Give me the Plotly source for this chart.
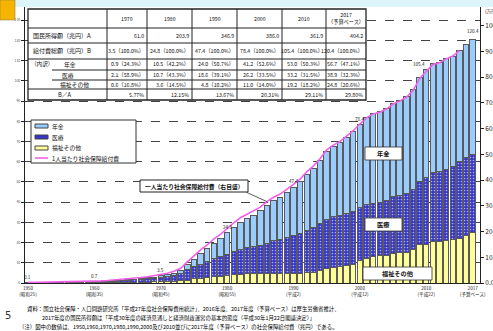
import plotly.graph_objects as go

# ---------------- data ----------------
years = list(range(1950, 2018))
# 兆円 (estimated from the picture / published series)
welfare = [0.06, 0.07, 0.09, 0.10, 0.12, 0.16, 0.17, 0.17, 0.19, 0.21,
           0.22, 0.25, 0.27, 0.30, 0.33, 0.35, 0.38, 0.42, 0.46, 0.53,
           0.59, 0.71, 0.89, 1.11, 1.46, 2.21, 2.45, 2.76, 3.12, 3.41,
           3.6, 4.1, 4.4, 4.5, 4.6, 4.5, 4.6, 4.7, 4.7, 4.7,
           4.8, 4.9, 5.2, 5.4, 6.0, 7.4, 7.8, 8.1, 8.5, 9.1,
           11.0, 12.2, 13.1, 13.4, 13.8, 14.5, 15.0, 15.2, 16.7, 19.2,
           19.2, 20.7, 20.5, 20.9, 21.5, 22.2, 23.7, 24.8]
medical = [0.06, 0.08, 0.12, 0.14, 0.16, 0.20, 0.21, 0.22, 0.27, 0.30,
           0.35, 0.44, 0.53, 0.66, 0.82, 1.00, 1.20, 1.37, 1.58, 1.80,
           2.06, 2.30, 2.84, 3.58, 5.03, 5.71, 6.80, 7.66, 8.94, 9.71,
           10.7, 11.6, 12.3, 13.0, 13.6, 14.3, 15.1, 16.1, 16.8, 17.6,
           18.6, 19.6, 21.0, 22.1, 23.3, 24.1, 24.9, 25.1, 25.7, 26.4,
           26.2, 26.7, 26.3, 26.6, 27.1, 28.1, 28.1, 28.9, 29.6, 30.8,
           33.2, 34.0, 34.6, 35.4, 36.3, 37.7, 38.3, 38.9]
pension = [0.01, 0.01, 0.01, 0.02, 0.02, 0.03, 0.03, 0.04, 0.05, 0.06,
           0.08, 0.10, 0.13, 0.16, 0.20, 0.25, 0.30, 0.36, 0.45, 0.55,
           0.86, 1.01, 1.20, 1.52, 2.54, 3.88, 5.33, 6.45, 7.72, 8.83,
           10.5, 11.9, 13.4, 14.5, 15.4, 16.9, 18.8, 19.9, 20.9, 22.5,
           24.0, 25.6, 27.6, 29.3, 31.2, 33.5, 34.8, 36.2, 37.9, 39.5,
           41.2, 42.8, 44.4, 44.8, 45.5, 46.3, 47.3, 48.3, 49.5, 51.7,
           53.0, 53.8, 54.0, 54.6, 54.3, 54.9, 56.0, 56.7]
pc_years = list(range(1950, 2016))
per_capita = [0.15, 0.19, 0.25, 0.30, 0.34, 0.43, 0.45, 0.47, 0.55, 0.61,
              0.69, 0.83, 0.97, 1.16, 1.38, 1.63, 1.90, 2.15, 2.46, 2.81,
              3.36, 3.79, 4.59, 5.70, 8.20, 10.54, 12.89, 14.77, 17.17, 18.89,
              21.18, 23.41, 25.36, 26.78, 27.95, 29.50, 31.63, 33.31, 34.58, 36.39,
              38.35, 40.40, 43.21, 45.51, 48.28, 51.75, 53.61, 54.99, 57.00, 59.19,
              61.78, 64.18, 65.73, 66.41, 67.61, 69.56, 70.68, 72.19, 74.79, 79.45,
              82.28, 84.90, 85.57, 87.12, 88.20, 90.32]

series_names = ["年金", "医療", "福祉その他", "1人当たり社会保障給付費"]
callout_text = "一人当たり社会保障給付費（右目盛）"

label_years = [1950, 1960, 1970, 1980, 1990, 2000, 2010, 2017]
label_texts = ["0.1", "0.7", "3.5", "24.8", "47.4", "78.4", "105.4", "120.4"]

tick_years = [1950, 1960, 1970, 1980, 1990, 2000, 2010, 2017]
tick_texts = ["1950<br>(昭和25)", "1960<br>(昭和35)", "1970<br>(昭和45)", "1980<br>(昭和55)",
              "1990<br>(平成2)", "2000<br>(平成12)", "2010<br>(平成22)", "2017<br>(予算ベース)"]

table_years = ["1970", "1980", "1990", "2000", "2010", "2017<br>（予算ベース）"]
national_income = ["61.0", "203.9", "346.9", "386.0", "361.9", "404.2"]
benefit_total = ["3.5", "24.8", "47.4", "78.4", "105.4", "120.4"]
benefit_pct = ["100.0%", "100.0%", "100.0%", "100.0%", "100.0%", "100.0%"]
pension_tab = ["0.9", "10.5", "24.0", "41.2", "53.0", "56.7"]
pension_pct = ["24.3%", "42.2%", "50.7%", "52.6%", "50.3%", "47.1%"]
medical_tab = ["2.1", "10.7", "18.6", "26.2", "33.2", "38.9"]
medical_pct = ["58.9%", "43.3%", "39.1%", "33.5%", "31.5%", "32.3%"]
welfare_tab = ["0.6", "3.6", "4.8", "11.0", "19.2", "24.8"]
welfare_pct = ["16.8%", "14.5%", "10.2%", "14.0%", "18.2%", "20.6%"]
ratio_ba = ["5.77%", "12.15%", "13.67%", "20.31%", "29.11%", "29.80%"]
row_labels = ["国民所得額（兆円）A", "給付費総額（兆円）B", "（内訳）", "年金", "医療", "福祉その他", "B／A"]

notes = [
    "資料：国立社会保障・人口問題研究所「平成27年度社会保障費用統計」、2016年度、2017年度（予算ベース）は厚生労働省推計、",
    "2017年度の国民所得額は「平成30年度の経済見通しと経済財政運営の基本的態度（平成30年1月22日閣議決定）」",
    "（注）図中の数値は、1950,1960,1970,1980,1990,2000及び2010並びに2017年度（予算ベース）の社会保障給付費（兆円）である。",
]

# ---------------- style ----------------
FONT = "Noto Sans CJK JP"
W, H = 493, 331
ML, MR, MT, MB = 25, 13, 0, 48
PW, PH = W - ML - MR, H - MT - MB
C_PEN, C_MED, C_WEL, C_PC = "#99CCFF", "#3535C8", "#FFFF99", "#F060E8"
EDGE = "#5a5a5a"

def PX(x):
    return (x - ML) / PW

def PY(y):
    return (H - MB - y) / PH

fig = go.Figure()
common = dict(x=years, width=0.82, showlegend=False)
fig.add_bar(y=welfare, name=series_names[2], marker=dict(color=C_WEL, line=dict(color=EDGE, width=1)), **common)
fig.add_bar(y=medical, name=series_names[1],
            marker=dict(color=C_MED, line=dict(color=EDGE, width=1),
                        pattern=dict(shape=".", bgcolor=C_MED, fgcolor="#A8A8FF", size=3, solidity=0.25)),
            **common)
fig.add_bar(y=pension, name=series_names[0], marker=dict(color=C_PEN, line=dict(color=EDGE, width=1)), **common)
fig.add_scatter(x=pc_years, y=per_capita, yaxis="y2", mode="lines", name=series_names[3],
                line=dict(color=C_PC, width=1.6), showlegend=False)

shapes = []
annots = []

def rect(x0, y0, x1, y1, fill="white", lc="#222", lw=1.0):
    shapes.append(dict(type="rect", xref="paper", yref="paper", x0=PX(x0), x1=PX(x1), y0=PY(y0), y1=PY(y1),
                       fillcolor=fill, line=dict(color=lc, width=lw), layer="above"))

def hline(x0, x1, y, lc="#222", lw=1.0):
    shapes.append(dict(type="line", xref="paper", yref="paper", x0=PX(x0), x1=PX(x1), y0=PY(y), y1=PY(y),
                       line=dict(color=lc, width=lw), layer="above"))

def vline(x, y0, y1, lc="#222", lw=1.0):
    shapes.append(dict(type="line", xref="paper", yref="paper", x0=PX(x), x1=PX(x), y0=PY(y0), y1=PY(y1),
                       line=dict(color=lc, width=lw), layer="above"))

def txt(x, y, s, size=5.6, anchor="left", color="#111", bold=False):
    annots.append(dict(xref="paper", yref="paper", x=PX(x), y=PY(y), text=("<b>%s</b>" % s) if bold else s,
                       showarrow=False, xanchor=anchor, yanchor="middle",
                       font=dict(family=FONT, size=size, color=color)))

# header decoration
shapes.append(dict(type="rect", xref="paper", yref="paper", x0=PX(0), x1=PX(W), y0=PY(0), y1=PY(7),
                   fillcolor="#DDF5FA", line=dict(width=0), layer="above"))
rect(0, 0, 15, 20, fill="#F5B400", lc="#9a8050", lw=0.6)

# ---- table ----
xe = [28, 107, 147, 192, 237, 282, 326, 366]
ye = [9, 28, 43, 59, 70, 80, 89, 100]
rect(xe[0], ye[0], xe[-1], ye[-1], lw=1.3)
for x in xe[1:-1]:
    vline(x, ye[0], ye[-1])
for i, y in enumerate(ye[1:-1], start=1):
    hline(52 if i in (4, 5) else xe[0], xe[-1], y)

for j, yr in enumerate(table_years):
    txt((xe[j + 1] + xe[j + 2]) / 2, (ye[0] + ye[1]) / 2, yr, size=5.2, anchor="center")

rows = [(national_income, None), (benefit_total, benefit_pct), (pension_tab, pension_pct),
        (medical_tab, medical_pct), (welfare_tab, welfare_pct), (ratio_ba, None)]
for r, (vals, pcts) in enumerate(rows):
    yc = (ye[r + 1] + ye[r + 2]) / 2
    for j in range(6):
        s = vals[j] if pcts is None else "%s（%s）" % (vals[j], pcts[j])
        txt(xe[j + 2] - 1.5, yc, s, size=5.3, anchor="right")

txt(31, (ye[1] + ye[2]) / 2, row_labels[0], size=6)
txt(31, (ye[2] + ye[3]) / 2, row_labels[1], size=6)
txt(29, (ye[3] + ye[4]) / 2, row_labels[2], size=5.6)
txt(62, (ye[3] + ye[4]) / 2, row_labels[3], size=5.8)
txt(60, (ye[4] + ye[5]) / 2, row_labels[4], size=5.8)
txt(58, (ye[5] + ye[6]) / 2, row_labels[5], size=5.8)
txt(65, (ye[6] + ye[7]) / 2, row_labels[6], anchor="center", size=5.8)

# ---- legend ----
rect(31, 120, 136, 163, lc="#333")
leg_y = [126, 137, 148, 158]
for k, c in enumerate([C_PEN, C_MED, C_WEL]):
    rect(35, leg_y[k] - 2, 48, leg_y[k] + 2, fill=c, lc="#444")
    txt(50, leg_y[k], series_names[k], size=5.8)
hline(35, 48, leg_y[3], lc=C_PC, lw=1.6)
txt(50, leg_y[3], series_names[3], size=5.8)

# ---- series labels on the chart ----
for nm, (x0, y0, x1, y1) in zip(series_names[:3], [(365, 147, 402, 160), (365, 218, 402, 231), (363, 267, 432, 280)]):
    rect(x0, y0, x1, y1, lc="#333", lw=0.8)
    txt((x0 + x1) / 2, (y0 + y1) / 2, nm, size=6.2, anchor="center", bold=True)

# per-capita callout: box + leader line to the curve
rect(140, 180, 248, 192, lc="#222", lw=1)
txt(194, 186, callout_text, size=5.8, anchor="center", bold=True)
pc_pt = pc_years.index(1986)
annots.append(dict(xref="x", yref="y2", x=1986, y=per_capita[pc_pt], ax=-22, ay=-10, text="",
                   showarrow=True, arrowhead=0, arrowwidth=0.8, arrowcolor="#333"))

# value labels
for yr, t in zip(label_years, label_texts):
    i = years.index(yr)
    tot = welfare[i] + medical[i] + pension[i]
    annots.append(dict(xref="x", yref="y", x=yr, y=tot, text=t, showarrow=False, yanchor="bottom",
                       xshift=-7 if yr == 2010 else 0, yshift=1 if yr < 2017 else 4,
                       font=dict(family=FONT, size=4.6, color="#222")))

# right axis unit
annots.append(dict(xref="paper", yref="paper", x=PX(483), y=PY(11), text="(万円)", showarrow=False,
                   xanchor="left", yanchor="middle", font=dict(family=FONT, size=4.6, color="#222")))

# notes
for (x, y), s in zip([(25, 309), (40, 318), (17, 327)], notes):
    txt(x, y, s, size=5.4, color="#000")
annots.append(dict(xref="paper", yref="paper", x=PX(3), y=PY(323), text="5", showarrow=False, xanchor="left",
                   font=dict(family="DejaVu Sans", size=10, color="#333")))

fig.update_layout(
    width=W, height=H, margin=dict(l=ML, r=MR, t=MT, b=MB, autoexpand=False),
    template="none", paper_bgcolor="white", plot_bgcolor="white",
    barmode="stack", bargap=0.18, showlegend=False,
    font=dict(family=FONT, size=6, color="#222"),
    xaxis=dict(range=[1949.55, 2018.1], tickvals=tick_years, ticktext=tick_texts, showline=True,
               linecolor="#222", linewidth=1, ticks="", showgrid=False, zeroline=False,
               tickfont=dict(size=4.6), automargin=False),
    yaxis=dict(range=[0, 140], dtick=10, showgrid=True, gridcolor="#444", griddash="dash", gridwidth=0.7,
               showline=True, linecolor="#222", linewidth=1, ticks="outside", ticklen=3, tickcolor="#222",
               tickfont=dict(size=3.5, color="#555"), tickformat="d", zeroline=False, automargin=False),
    yaxis2=dict(range=[0, 110], overlaying="y", side="right", tickvals=list(range(0, 101, 10)),
                tickformat=".1f", showgrid=False, showline=True, linecolor="#222", linewidth=1,
                ticks="outside", ticklen=3, tickcolor="#222", tickfont=dict(size=6.5), zeroline=False,
                automargin=False),
    shapes=shapes, annotations=annots,
)

fig.write_html("out.html")
